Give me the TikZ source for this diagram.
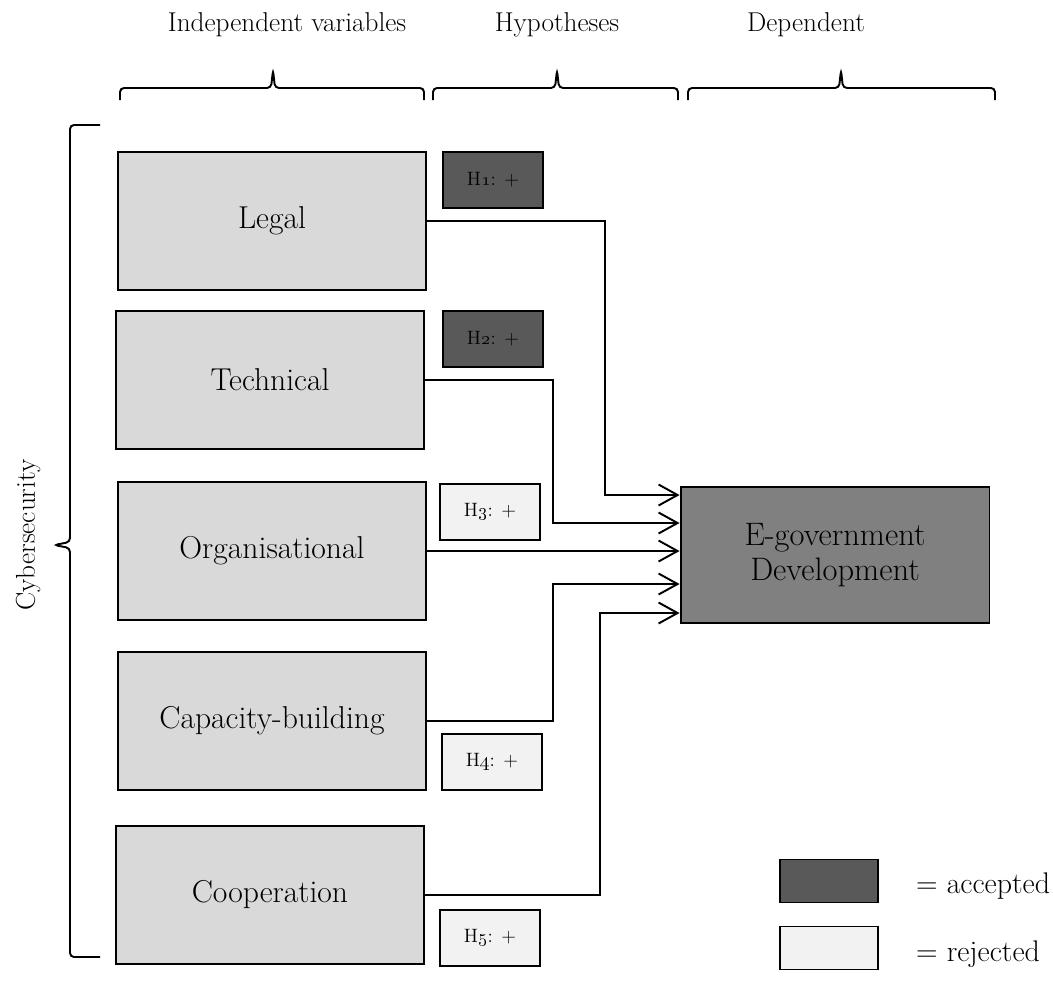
\documentclass[tikz,border=0pt]{standalone}
\usepackage{tikz}
\usetikzlibrary{arrows.meta,positioning}

\definecolor{boxgray}{HTML}{D9D9D9}
\definecolor{accgray}{HTML}{595959}
\definecolor{rejgray}{HTML}{F2F2F2}
\definecolor{depgray}{HTML}{808080}

\tikzset{
	var/.style={draw, fill=boxgray, line width=1.1pt, minimum width=6.16cm, minimum height=2.76cm, font=\fontsize{18}{21}\selectfont},
	hyp/.style={draw, line width=1.1pt, minimum width=2cm, minimum height=1.12cm, font=\fontsize{11}{13}\selectfont},
	acc/.style={hyp, fill=accgray},
	rej/.style={hyp, fill=rejgray},
	legbox/.style={minimum width=1.96cm, minimum height=0.86cm},
	arr/.style={line width=1.1pt, -{Straight Barb[length=0.38cm, width=0.42cm, line width=1.1pt]}},
	brc/.style={line width=1.1pt, rounded corners=0.08cm},
	head/.style={font=\fontsize{15.5}{18}\selectfont},
	legtxt/.style={font=\fontsize{17}{20}\selectfont, anchor=west}
}

\begin{document}
\begin{tikzpicture}[x=0.02cm, y=-0.02cm]
	\useasboundingbox (0,0) rectangle (1053,985);
	% column headings and braces
	\node[head] (hindep) at (287,25) {Independent variables};
	\node[head] (hhyp) at (557,25) {Hypotheses};
	\node[head] (hdep) at (806,25) {Dependent};
	\foreach \a/\m/\b in {120/273/424, 433/557/678, 688/841/995}{
		\draw[brc] (\a,100) -- (\a,88) -- (\m-2,88) -- (\m,70) -- (\m+2,88) -- (\b,88) -- (\b,100);
	}
	\draw[brc] (100,125) -- (70,125) -- (70,542) -- (54,545) -- (70,548) -- (70,957) -- (100,957);
	\node[head, rotate=90] (cyber) at (28,535) {Cybersecurity};

	% independent variables
	\node[var] (legal) at (272,221) {Legal};
	\node[var] (tech) at (270,380) {Technical};
	\node[var] (org) at (272,551) {Organisational};
	\node[var] (cap) at (272,721) {Capacity-building};
	\node[var] (coop) at (270,895) {Cooperation};

	% hypotheses
	\node[acc] (h1) at (493,180) {H\oldstylenums{1}: +};
	\node[acc] (h2) at (493,339) {H\oldstylenums{2}: +};
	\node[rej] (h3) at (490,512) {H\oldstylenums{3}: +};
	\node[rej] (h4) at (492,762) {H\oldstylenums{4}: +};
	\node[rej] (h5) at (490,938) {H\oldstylenums{5}: +};

	% dependent variable
	\node[draw, fill=depgray, line width=1.1pt, minimum width=6.18cm, minimum height=2.72cm, align=center, font=\fontsize{18.5}{20}\selectfont] (egov) at (835,555) {E-government\\Development};

	\draw[arr] (legal.east) -| (605,495) -- (egov.west |- 0,495);
	\draw[arr] (tech.east) -| (553,523) -- (egov.west |- 0,523);
	\draw[arr] (org.east) -- (egov.west |- org.east);
	\draw[arr] (cap.east) -| (553,584) -- (egov.west |- 0,584);
	\draw[arr] (coop.east) -| (600,613) -- (egov.west |- 0,613);

	% legend
	\node[acc, legbox] (legacc) at (829,881) {};
	\node[rej, legbox] (legrej) at (829,948) {};
	\node[legtxt] (accept) at (910,886) {= accepted};
	\node[legtxt] (reject) at (910,954) {= rejected};
\end{tikzpicture}
\end{document}
